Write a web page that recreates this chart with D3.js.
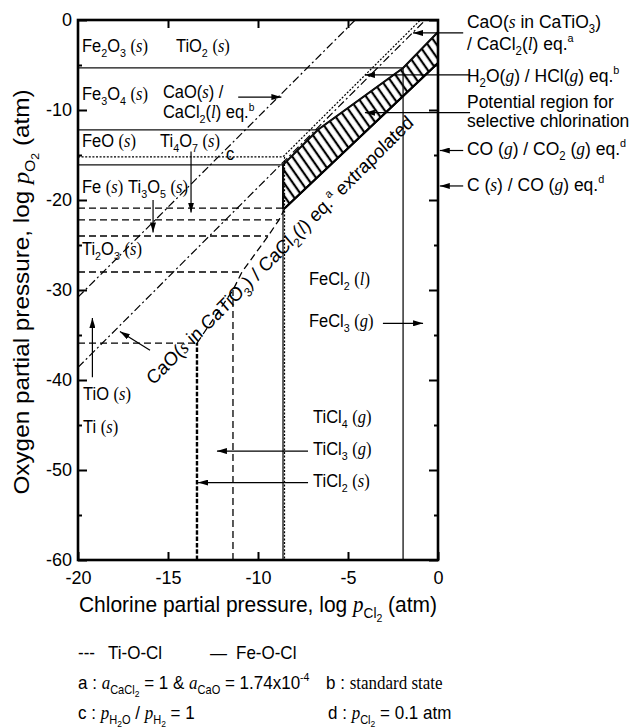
<!DOCTYPE html>
<html>
<head>
<meta charset="utf-8">
<script src="https://cdn.jsdelivr.net/npm/d3@7/dist/d3.min.js"></script>
<style>
  body { margin: 0; background: #fff; }
  svg { display: block; font-family: Arial, "Liberation Sans", Helvetica, sans-serif; }
  text { white-space: pre; fill: #000; }
  .it { font-family: "Liberation Serif", "Times New Roman", serif; font-style: italic; }
  .rm { font-family: "Liberation Serif", "Times New Roman", serif; }
</style>
</head>
<body>
<svg id="chart" width="630" height="728"></svg>
<script>
// ticks
var xTicks = [-20, -15, -10, -5, 0];
var xInnerTicks = [-15, -10, -5];
var yTicks = [0, -10, -20, -30, -40, -50, -60];
var yMinorTicks = [-5, -15, -25, -35, -45, -55];

// points are [log pCl2, log pO2]
// Fe-O-Cl boundaries (solid)
var feBoundaries = [
  [[-20, -5.33], [-1.94, -5.33]],
  [[-20, -12.2], [-6.67, -12.2]],
  [[-20, -16.1], [-8.61, -16.1]],
  [[-8.61, -60], [-8.61, -16.1], [-6.67, -12.2], [-1.94, -5.33], [0, -1.33]],
  [[-1.94, -60], [-1.94, -5.33]]
];
// potential region for selective chlorination
var hatchRegion = [[-8.61, -16.1], [-6.67, -12.2], [-1.94, -5.33], [0, -1.33],
                   [0, -4.78], [-8.5, -20.9], [-8.61, -20.9]];
var hatchLowerEdge = [[-8.5, -20.9], [0, -4.78]];

// Ti-O-Cl boundaries (dashed)
var tiBoundaries = [
  [[-20, -20.9], [-8.5, -20.9]],
  [[-20, -22.2], [-8.83, -22.2]],
  [[-20, -24.0], [-9.44, -24.0]],
  [[-20, -28.0], [-10.89, -28.0]],
  [[-20, -35.9], [-13.39, -35.9]],
  [[-13.39, -35.9], [-11.39, -30.0], [-10.89, -28.0], [-9.44, -24.0], [-8.83, -22.2], [-8.5, -20.9]],
  [[-11.39, -60], [-11.39, -30.0]]
];
var tiDoubleLine = [[-13.39, -60], [-13.39, -35.9]];

// H2O/H2, HCl and H2O/HCl (dotted)
var hydrogenLines = [
  [[-20, -15.2], [-8.61, -15.2], [-0.98, 0]]
];
var hclVertical = [[-8.61, -15.2], [-8.61, -60]];

// CaO / CaCl2 equilibria (dash-dot)
var caoLines = [
  [[-20, -30.8], [-4.6, 0]],
  [[-20, -38.6], [-0.7, 0]]
];

// arrows, from -> to
var arrows = [
  [[-13.72, -14.6], [-13.72, -21.4]],
  [[-15.83, -20.0], [-15.83, -23.6]],
  [[-19.2, -39.7], [-19.2, -33.1]],
  [[-16.0, -36.7], [-17.67, -34.6]],
  [[-11.1, -8.56], [-8.7, -8.56]],
  [[-3.06, -33.7], [-0.83, -33.7]],
  [[-7.22, -47.9], [-12.28, -47.9]],
  [[-7.22, -51.4], [-13.33, -51.4]],
  [[1.4, -1.44], [-1.39, -1.44]],
  [[1.78, -6.1], [-4.06, -6.1]],
  [[1.78, -10.3], [-4.06, -10.3]],
  [[1.4, -14.5], [0.1, -14.5]],
  [[1.4, -18.44], [0.1, -18.44]]
];

// labels: text, log pCl2, log pO2
var plotLabels = [
  ["Fe_{2}O_{3} [s]", -19.78, -3.56],
  ["TiO_{2} [s]", -14.56, -3.56],
  ["Fe_{3}O_{4} [s]", -19.78, -8.89],
  ["CaO(*s*) /", -15.28, -8.67],
  ["CaCl_{2}(*l*) eq.^{b}", -15.28, -10.89],
  ["FeO [s]", -19.78, -14.11],
  ["Ti_{4}O_{7} [s]", -15.44, -14.11],
  ["Fe [s]", -19.78, -19.22],
  ["Ti_{3}O_{5} [s]", -17.22, -19.22],
  ["Ti_{2}O_{3} [s]", -19.78, -26.11],
  ["TiO [s]", -19.72, -42.22],
  ["Ti [s]", -19.72, -45.89],
  ["FeCl_{2} [l]", -7.17, -29.44],
  ["FeCl_{3} [g]", -7.17, -34.11],
  ["TiCl_{4} [g]", -6.94, -44.78],
  ["TiCl_{3} [g]", -6.94, -48.33],
  ["TiCl_{2} [s]", -6.94, -51.89],
  ["c", -11.78, -15.56]
];
var sideLabels = [
  ["CaO(*s* in CaTiO_{3})", 1.61, -0.89],
  ["/ CaCl_{2}(*l*) eq.^{a}", 1.61, -3.33],
  ["H_{2}O(*g*) / HCl(*g*) eq.^{b}", 1.61, -6.89],
  ["Potential region for", 1.61, -9.78],
  ["selective chlorination", 1.61, -11.89],
  ["CO (*g*) / CO_{2} (*g*) eq.^{d}", 1.61, -15.0],
  ["C (*s*) / CO (*g*) eq.^{d}", 1.61, -19.0]
];
var slopeLabel = ["CaO(*s* in CaTiO_{3}) / CaCl_{2}(*l*) eq.^{a} extrapolated", -8.56, -26.1];

var svg = d3.select("#chart");
var STRETCH = 1.08;

var x = d3.scaleLinear().domain([-20, 0]).range([78, 438]);
var y = d3.scaleLinear().domain([0, -60]).range([20, 560]);

var line = d3.line()
  .x(function(d) { return x(d[0]); })
  .y(function(d) { return y(d[1]); });

var defs = svg.append("defs");
defs.append("marker")
    .attr("id", "head")
    .attr("viewBox", "0 0 10 6")
    .attr("refX", 10).attr("refY", 3)
    .attr("markerWidth", 10).attr("markerHeight", 6)
    .attr("markerUnits", "userSpaceOnUse")
    .attr("orient", "auto")
  .append("path")
    .attr("d", "M0,0L10,3L0,6z")
    .attr("fill", "#000");

defs.append("pattern")
    .attr("id", "hatch")
    .attr("patternUnits", "userSpaceOnUse")
    .attr("width", 7.3).attr("height", 10)
    .attr("patternTransform", "rotate(-35)")
  .append("line")
    .attr("x1", 3.6).attr("x2", 3.6)
    .attr("y1", -1).attr("y2", 11)
    .attr("stroke", "#000")
    .attr("stroke-width", 2.2);

// rich text: _{sub} __{subsub} ^{sup} *italic* [x] -> (x) in serif ~serif~
function richText(parent, str, size) {
  var text = parent.append("text").attr("font-size", size);
  var re = /__\{[^}]*\}|_\{[^}]*\}|\^\{[^}]*\}|\*[^*]*\*|\[[^\]]*\]|~[^~]*~|[^_^*\[~]+/g;
  var parts = [];
  (str.match(re) || []).forEach(function(tok) {
    if (tok.slice(0, 3) === "__{") parts.push({t: tok.slice(3, -1), s: 0.45, f: 0.5});
    else if (tok.slice(0, 2) === "_{") parts.push({t: tok.slice(2, -1), s: 0.28, f: 0.65});
    else if (tok.slice(0, 2) === "^{") parts.push({t: tok.slice(2, -1), s: -0.42, f: 0.62});
    else if (tok[0] === "*") parts.push({t: tok.slice(1, -1), s: 0, f: 1, c: "it"});
    else if (tok[0] === "~") parts.push({t: tok.slice(1, -1), s: 0, f: 1, c: "rm"});
    else if (tok[0] === "[") {
      parts.push({t: "(", s: 0, f: 1, c: "rm"});
      parts.push({t: tok.slice(1, -1), s: 0, f: 1, c: "it"});
      parts.push({t: ")", s: 0, f: 1, c: "rm"});
    }
    else parts.push({t: tok, s: 0, f: 1});
  });
  var shift = 0;
  parts.forEach(function(p) {
    var off = p.s * size;
    var span = text.append("tspan")
      .attr("dy", off - shift)
      .attr("font-size", p.f * size)
      .text(p.t);
    if (p.c) span.attr("class", p.c);
    shift = off;
  });
  return text;
}

function placeText(str, px, py, size, rot, anchor) {
  var g = svg.append("g")
    .attr("transform", "translate(" + px + "," + py + ") scale(1," + STRETCH + ") rotate(" + (rot || 0) + ")");
  return richText(g, str, size).attr("text-anchor", anchor || "start");
}

// hatched region
svg.append("path")
   .attr("d", line(hatchRegion) + "Z")
   .attr("fill", "url(#hatch)")
   .attr("stroke", "#000")
   .attr("stroke-width", 2);

function drawLines(data, dash, width, color) {
  return svg.append("g")
    .selectAll("path")
    .data(data)
    .enter()
    .append("path")
      .attr("d", line)
      .attr("fill", "none")
      .attr("stroke", color || "#000")
      .attr("stroke-width", width)
      .attr("stroke-dasharray", dash);
}

drawLines(feBoundaries, null, 1.3, "#111");
drawLines([hatchLowerEdge], null, 2);
drawLines(tiBoundaries, "7,4", 1.3);
drawLines([tiDoubleLine], "4.5,1.8", 2.4);
drawLines(hydrogenLines, "2,1.6", 1.2);
drawLines([hclVertical], "2,1.6", 1.2).attr("transform", "translate(1.5,0)");
drawLines(caoLines, "8,3,2,3", 1.2);

// arrows
svg.append("g")
   .selectAll("path")
   .data(arrows)
   .enter()
   .append("path")
     .attr("d", line)
     .attr("fill", "none")
     .attr("stroke", "#000")
     .attr("stroke-width", 1.2)
     .attr("marker-end", "url(#head)");

// axes
function styleAxis(g) {
  g.select(".domain").remove();
  g.selectAll(".tick line").attr("stroke", "#000").attr("stroke-width", 2);
  g.selectAll(".tick text").attr("font-size", 18).attr("fill", "#000")
   .attr("font-family", "Arial, 'Liberation Sans', sans-serif");
}
var plainNumber = function(d) { return String(d); };

svg.append("g")
   .attr("transform", "translate(0,560)")
   .call(d3.axisBottom(x).tickValues(xTicks).tickSizeInner(-8).tickSizeOuter(0).tickPadding(11)
     .tickFormat(plainNumber))
   .call(styleAxis);

svg.append("g")
   .attr("transform", "translate(0,20)")
   .call(d3.axisTop(x).tickValues(xInnerTicks).tickSizeInner(-8).tickSizeOuter(0).tickFormat(""))
   .call(styleAxis);

svg.append("g")
   .attr("transform", "translate(78,0)")
   .call(d3.axisLeft(y).tickValues(yTicks).tickSizeInner(-9).tickSizeOuter(0).tickPadding(6)
     .tickFormat(plainNumber))
   .call(styleAxis);
svg.append("g")
   .attr("transform", "translate(78,0)")
   .call(d3.axisLeft(y).tickValues(yMinorTicks).tickSizeInner(-4).tickSizeOuter(0).tickFormat(""))
   .call(styleAxis);
svg.append("g")
   .attr("transform", "translate(438,0)")
   .call(d3.axisRight(y).tickValues(yTicks).tickSizeInner(-9).tickSizeOuter(0).tickFormat(""))
   .call(styleAxis);
svg.append("g")
   .attr("transform", "translate(438,0)")
   .call(d3.axisRight(y).tickValues(yMinorTicks).tickSizeInner(-4).tickSizeOuter(0).tickFormat(""))
   .call(styleAxis);

// frame
svg.append("rect")
   .attr("x", x(-20)).attr("y", y(0))
   .attr("width", x(0) - x(-20)).attr("height", y(-60) - y(0))
   .attr("fill", "none")
   .attr("stroke", "#000")
   .attr("stroke-width", 2.6);

// labels
plotLabels.forEach(function(d) {
  placeText(d[0], x(d[1]), y(d[2]), 16.5);
});
sideLabels.forEach(function(d) {
  placeText(d[0], x(d[1]), y(d[2]), 17.5);
});
placeText(slopeLabel[0], x(slopeLabel[1]), y(slopeLabel[2]), 18, -42.8, "middle");

// axis titles
placeText("Chlorine partial pressure, log *p*_{Cl}__{2} (atm)", 258, 612, 21, 0, "middle");
placeText("Oxygen partial pressure, log *p*_{O}__{2} (atm)", 29, 292, 22.5, -90, "middle");

// legend and notes
placeText("---", 78, 659, 17);
placeText("Ti-O-Cl", 108, 659, 17);
placeText("\u2014", 210, 659, 17);
placeText("Fe-O-Cl", 236, 659, 17);
placeText("a : *a*_{CaCl}__{2} = 1 & *a*_{CaO} = 1.74x10^{-4}", 78, 689, 17);
placeText("b : ~standard state~", 326, 689, 17);
placeText("c : *p*_{H}__{2}_{O} / *p*_{H}__{2} = 1", 78, 719, 17);
placeText("d : *p*_{Cl}__{2} = 0.1 atm", 328, 719, 17);
</script>
</body>
</html>
